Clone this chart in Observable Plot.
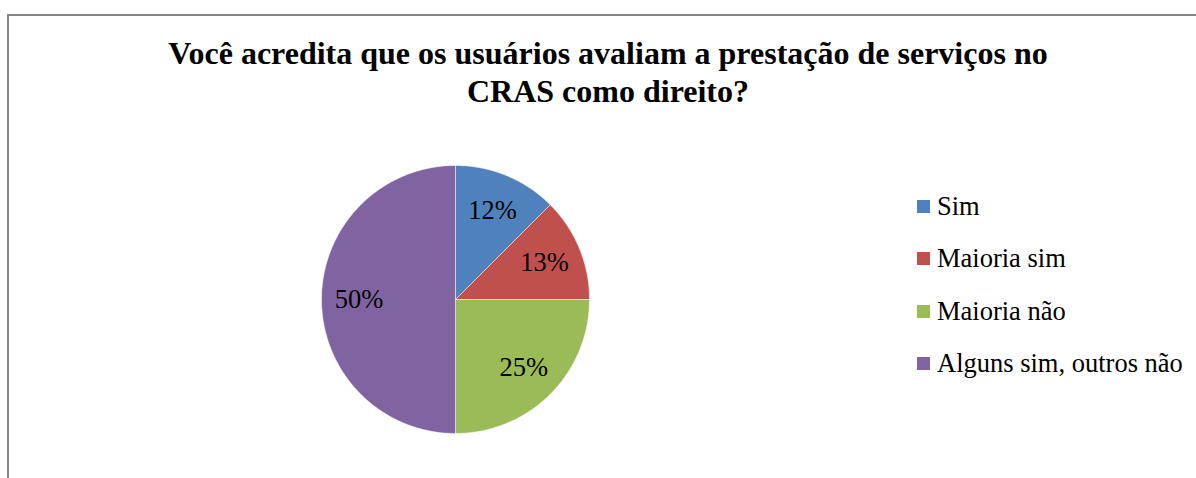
<!DOCTYPE html>
<html>
<head>
<meta charset="utf-8">
<script src="https://cdn.jsdelivr.net/npm/d3@7"></script>
<script src="https://cdn.jsdelivr.net/npm/@observablehq/plot@0.6"></script>
<style>
  body { margin: 0; background: #fff; }
  #wrap { position: relative; width: 1196px; height: 478px; overflow: hidden; background: #fff;
          font-family: "Liberation Serif", "Times New Roman", serif; color: #000; }
  #frame { position: absolute; left: 7px; top: 14px; width: 1400px; height: 700px;
           border: 2px solid #878787; box-sizing: border-box; }
  #title { position: absolute; left: 7px; width: 1202px; top: 35px; text-align: center;
           font-family: "Liberation Serif", "Times New Roman", serif;
           font-weight: bold; font-size: 32px; line-height: 37.5px; }
  #chart { position: absolute; left: 0; top: 0; }
  #legend { position: absolute; left: 917px; top: 191px; }
  .row { position: relative; height: 52.4px; font-size: 26.5px; line-height: 30px; white-space: nowrap;
         font-family: "Liberation Serif", "Times New Roman", serif; }
  .sw { position: absolute; left: 0; top: 9px; width: 13px; height: 13px; }
  .lab { position: absolute; left: 20px; top: 0; }
</style>
</head>
<body>
<div id="wrap">
  <div id="frame"></div>
  <div id="title">Você acredita que os usuários avaliam a prestação de serviços no<br>CRAS como direito?</div>
  <div id="chart"></div>
  <div id="legend"></div>
</div>
<script>
const categories = ["Sim", "Maioria sim", "Maioria não", "Alguns sim, outros não"];
const values = [12.5, 12.5, 25, 50];
const labels = ["12%", "13%", "25%", "50%"];
const colors = ["#4F81BD", "#C0504D", "#9BBB59", "#8064A2"];

const rows = categories.map((c, i) => ({cat: c, value: values[i], label: labels[i]}));
const arcs = d3.pie().sort(null).value(d => d.value)(rows);

// wedge outlines (unit circle, clockwise from 12 o'clock)
const pts = [];
arcs.forEach(a => {
  const n = Math.max(2, Math.ceil((a.endAngle - a.startAngle) / (2 * Math.PI) * 360));
  pts.push({cat: a.data.cat, x: 0, y: 0});
  for (let k = 0; k <= n; k++) {
    const t = a.startAngle + (a.endAngle - a.startAngle) * k / n;
    pts.push({cat: a.data.cat, x: Math.sin(t), y: Math.cos(t)});
  }
  pts.push({cat: a.data.cat, x: 0, y: 0});
});

const labelR = 0.72;
const labelPts = arcs.map(a => {
  const m = (a.startAngle + a.endAngle) / 2;
  return {label: a.data.label, x: labelR * Math.sin(m), y: labelR * Math.cos(m)};
});

const plot = Plot.plot({
  width: 1196,
  height: 478,
  marginLeft: 321,
  marginRight: 607,
  marginTop: 165,
  marginBottom: 45,
  style: {background: "transparent", fontFamily: "'Liberation Serif', 'Times New Roman', serif"},
  x: {domain: [-1, 1], axis: null},
  y: {domain: [-1, 1], axis: null},
  color: {domain: categories, range: colors},
  marks: [
    Plot.line(pts, {x: "x", y: "y", z: "cat", fill: "cat", stroke: "white", strokeWidth: 1, strokeOpacity: 0.5, curve: "linear"}),
    Plot.text(labelPts, {x: "x", y: "y", text: "label", fontSize: 26.5, fill: "black"})
  ]
});
document.getElementById("chart").appendChild(plot);

const legend = document.getElementById("legend");
categories.forEach((c, i) => {
  const r = document.createElement("div");
  r.className = "row";
  r.innerHTML = `<span class="sw" style="background:${colors[i]}"></span><span class="lab">${c}</span>`;
  legend.appendChild(r);
});
</script>
</body>
</html>
